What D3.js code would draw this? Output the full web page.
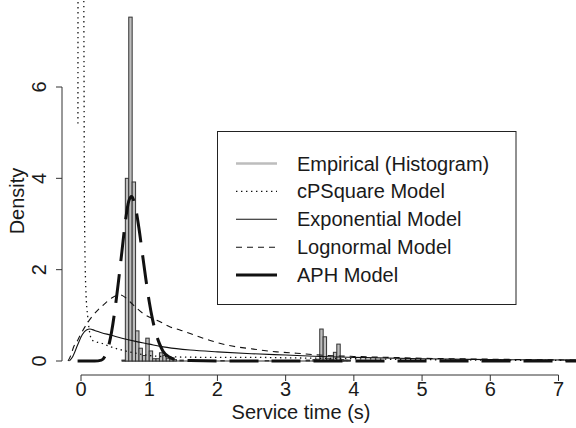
<!DOCTYPE html>
<html>
<head>
<meta charset="utf-8">
<script src="https://cdn.jsdelivr.net/npm/d3@7"></script>
<style>
  body { margin: 0; background: #fff; }
  text { font-family: "Liberation Sans", Arial, sans-serif; fill: #1a1a1a; }
</style>
</head>
<body>
<div id="chart"></div>
<script>
// histogram (left edge of each 0.05 s bin, density)
var histBinWidth = 0.05;
var histRange = [0.6, 3.95];
var histX = [0.60, 0.65, 0.70, 0.75, 0.80, 0.85, 0.90, 0.95, 1.00, 1.05, 1.10, 1.15, 1.20, 1.25, 1.30, 1.35, 1.45, 1.60, 2.05, 2.70, 3.30, 3.40, 3.45, 3.50, 3.55, 3.60, 3.65, 3.70, 3.75, 3.80, 3.85, 3.90];
var histY = [0.02, 4.00, 7.53, 3.92, 0.66, 0.28, 0.12, 0.50, 0.22, 0.05, 0.05, 0.18, 0.12, 0.06, 0.04, 0.03, 0.02, 0.02, 0.01, 0.01, 0.02, 0.03, 0.04, 0.70, 0.53, 0.05, 0.04, 0.19, 0.37, 0.03, 0.02, 0.02];

// fitted densities
var cpsquareX = [-0.045, -0.043, 0.038, 0.043, 0.05, 0.07, 0.10, 0.13, 0.16, 0.22, 0.30, 0.40, 0.50, 0.60, 0.80, 1.00, 1.35, 2.00, 2.50, 3.00, 3.50, 4.00, 5.00, 6.00, 7.30];
var cpsquareY = [5.20, 9.00, 9.00, 7.00, 3.50, 1.60, 0.95, 0.60, 0.46, 0.42, 0.39, 0.33, 0.28, 0.24, 0.17, 0.12, 0.09, 0.08, 0.08, 0.07, 0.06, 0.05, 0.03, 0.02, 0.01];

var expX = [-0.17, -0.12, -0.05, 0.02, 0.08, 0.13, 0.20, 0.30, 0.43, 0.60, 0.80, 1.00, 1.16, 1.40, 1.60, 2.00, 2.50, 3.00, 3.50, 4.00, 5.00, 6.00, 7.30];
var expY = [0.00, 0.10, 0.35, 0.58, 0.68, 0.70, 0.67, 0.62, 0.57, 0.50, 0.43, 0.37, 0.32, 0.27, 0.24, 0.20, 0.16, 0.13, 0.10, 0.08, 0.05, 0.03, 0.02];

var lognormX = [-0.19, -0.15, -0.11, -0.05, -0.01, 0.08, 0.16, 0.25, 0.33, 0.45, 0.57, 0.66, 0.75, 0.91, 1.16, 1.30, 1.45, 1.60, 1.79, 2.14, 2.53, 2.87, 3.16, 3.50, 4.00, 4.50, 5.00, 6.00, 7.30];
var lognormY = [0.00, 0.12, 0.30, 0.45, 0.57, 0.80, 0.97, 1.12, 1.23, 1.38, 1.45, 1.38, 1.25, 1.04, 0.86, 0.75, 0.68, 0.60, 0.50, 0.35, 0.26, 0.20, 0.17, 0.13, 0.10, 0.08, 0.06, 0.04, 0.02];

var aphX = [-0.05, 0.20, 0.30, 0.35, 0.40, 0.45, 0.50, 0.55, 0.60, 0.65, 0.70, 0.74, 0.80, 0.85, 0.90, 0.95, 1.00, 1.05, 1.10, 1.15, 1.20, 1.30, 1.40, 1.60, 2.00, 7.30];
var aphY = [0.00, 0.00, 0.02, 0.10, 0.30, 0.65, 1.15, 1.75, 2.40, 3.05, 3.50, 3.60, 3.35, 2.90, 2.35, 1.80, 1.30, 0.90, 0.60, 0.38, 0.22, 0.08, 0.03, 0.01, 0.00, 0.00];

var xTicks = [0, 1, 2, 3, 4, 5, 6, 7];
var yTicks = [0, 2, 4, 6];
var legendLabels = ["Empirical (Histogram)", "cPSquare Model", "Exponential Model", "Lognormal Model", "APH Model"];

var W = 576, H = 428;
var fs = 20;

var svg = d3.select("#chart").append("svg").attr("width", W).attr("height", H);

var x = d3.scaleLinear().domain([0, 7]).range([81, 558.5]);
var y = d3.scaleLinear().domain([0, 6]).range([361, 87]);

// plot region (R clips to it)
var plotL = 62, plotR = 577, plotT = 0, plotB = 375;
svg.append("clipPath").attr("id", "clip")
	.append("rect").attr("x", plotL).attr("y", plotT).attr("width", plotR - plotL).attr("height", plotB - plotT);

var layer = svg.append("g").attr("clip-path", "url(#clip)");

// zero-height bins show as a base line
layer.append("path").attr("stroke", "#333").attr("stroke-width", 1).attr("fill", "none")
	.attr("d", "M" + x(histRange[0]) + "," + y(0) + " L" + x(histRange[1]) + "," + y(0));

layer.selectAll("rect.bar").data(histX).enter().append("rect")
	.attr("class", "bar")
	.attr("x", function(d) { return x(d); })
	.attr("width", function(d) { return x(d + histBinWidth) - x(d); })
	.attr("y", function(d, i) { return y(histY[i]); })
	.attr("height", function(d, i) { return y(0) - y(histY[i]); })
	.attr("fill", "#bebebe").attr("stroke", "#333").attr("stroke-width", 1);

function pairs(xs, ys) {
	return xs.map(function(v, i) { return [v, ys[i]]; });
}

var line = d3.line()
	.x(function(d) { return x(d[0]); })
	.y(function(d) { return y(d[1]); })
	.curve(d3.curveMonotoneX);

function drawCurve(data, width, dash) {
	var p = layer.append("path").attr("d", line(data))
		.attr("fill", "none").attr("stroke", "#111").attr("stroke-width", width)
		.attr("stroke-linejoin", "round");
	if (dash) p.attr("stroke-dasharray", dash);
	return p;
}

drawCurve(pairs(cpsquareX, cpsquareY), 1.3, "1.4,3.6");
drawCurve(pairs(expX, expY), 1.1, null);
drawCurve(pairs(lognormX, lognormY), 1.1, "6,5");
drawCurve(pairs(aphX, aphY), 3, "29,13");

// axes, R style
var axisColor = "#333";
svg.append("path").attr("stroke", axisColor).attr("fill", "none").attr("stroke-width", 1)
	.attr("d", "M" + x(0) + "," + plotB + " L" + x(7) + "," + plotB);
xTicks.forEach(function(t) {
	svg.append("path").attr("stroke", axisColor).attr("stroke-width", 1)
		.attr("d", "M" + x(t) + "," + plotB + " L" + x(t) + "," + (plotB + 6));
	svg.append("text").attr("x", x(t)).attr("y", 396).attr("text-anchor", "middle")
		.attr("font-size", fs).text(t);
});
svg.append("text").attr("x", 301).attr("y", 419).attr("text-anchor", "middle")
	.attr("font-size", fs).text("Service time (s)");

svg.append("path").attr("stroke", axisColor).attr("fill", "none").attr("stroke-width", 1)
	.attr("d", "M" + plotL + "," + y(0) + " L" + plotL + "," + y(6));
yTicks.forEach(function(t) {
	svg.append("path").attr("stroke", axisColor).attr("stroke-width", 1)
		.attr("d", "M" + plotL + "," + y(t) + " L" + (plotL - 6) + "," + y(t));
	svg.append("text").attr("transform", "translate(46," + y(t) + ") rotate(-90)")
		.attr("text-anchor", "middle").attr("font-size", fs).text(t);
});
svg.append("text").attr("transform", "translate(24,201) rotate(-90)")
	.attr("text-anchor", "middle").attr("font-size", fs).text("Density");

// legend
var lg = svg.append("g");
lg.append("rect").attr("x", 217.5).attr("y", 131.5).attr("width", 298.5).attr("height", 173)
	.attr("fill", "#fff").attr("stroke", "#222").attr("stroke-width", 1);
var legendStyles = [
	{ color: "#bdbdbd", width: 2.5, dash: null },
	{ color: "#111", width: 1.3, dash: "1.4,3.6" },
	{ color: "#111", width: 1.1, dash: null },
	{ color: "#111", width: 1.1, dash: "6,5" },
	{ color: "#111", width: 3, dash: null }
];
legendLabels.forEach(function(name, i) {
	var cy = 163.5 + i * 27.9;
	var s = legendStyles[i];
	var p = lg.append("path").attr("d", "M236," + cy + " L277," + cy)
		.attr("stroke", s.color).attr("stroke-width", s.width).attr("fill", "none");
	if (s.dash) p.attr("stroke-dasharray", s.dash);
	lg.append("text").attr("x", 297).attr("y", cy).attr("dy", "0.35em")
		.attr("font-size", fs).text(name);
});
</script>
</body>
</html>
